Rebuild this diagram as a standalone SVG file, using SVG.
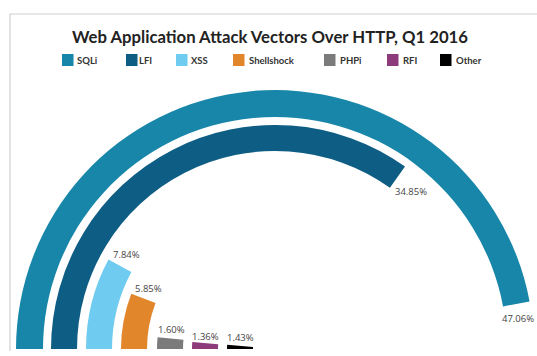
<svg xmlns="http://www.w3.org/2000/svg" width="537" height="356" viewBox="0 0 537 356">
<style>
.title{font-family:Lato,"Liberation Sans",sans-serif;font-weight:700;font-size:17px;fill:#222}
.leg{font-family:Lato,"Liberation Sans",sans-serif;font-weight:700;font-size:9.5px;fill:#333}
.val{font-family:"Open Sans","Liberation Sans",sans-serif;font-size:9.5px;fill:#444}
.frame{fill:none;stroke:#cfcfcf;stroke-width:1.2}
</style>
<rect x="0" y="0" width="537" height="356" fill="#ffffff"/>
<path class="frame" d="M10,351 L10,14 L537,14"/>
<text class="title" x="270" y="43" text-anchor="middle" textLength="396" lengthAdjust="spacingAndGlyphs">Web Application Attack Vectors Over HTTP, Q1 2016</text>
<g id="legend">
<rect x="62" y="54" width="11.5" height="12" fill="#1786a9"/><text class="leg" x="77" y="64">SQLi</text>
<rect x="126" y="54" width="11.5" height="12" fill="#0e5d84"/><text class="leg" x="139" y="64">LFI</text>
<rect x="176" y="54" width="11.5" height="12" fill="#6fcbef"/><text class="leg" x="191" y="64">XSS</text>
<rect x="233" y="54" width="11.5" height="12" fill="#e1862b"/><text class="leg" x="249" y="64">Shellshock</text>
<rect x="324" y="54" width="11.5" height="12" fill="#7b7b7b"/><text class="leg" x="340" y="64">PHPi</text>
<rect x="387" y="54" width="11.5" height="12" fill="#8e3b7c"/><text class="leg" x="403" y="64">RFI</text>
<rect x="440" y="54" width="11.5" height="12" fill="#000000"/><text class="leg" x="456" y="64">Other</text>
</g>
<g id="sqli">
<path d="M16,349 A259,259 0 0 1 529.59,301.43 L503.05,306.39 A232,232 0 0 0 43,349 Z" fill="#1786a9"/>
<text class="val" x="502" y="322">47.06%</text>
</g>
<g id="lfi">
<path d="M51,349 A224,224 0 0 1 405,166.59 L389.91,187.76 A198,198 0 0 0 77,349 Z" fill="#0e5d84"/>
<text class="val" x="395" y="195">34.85%</text>
</g>
<g id="xss">
<path d="M86,349 A189,189 0 0 1 108.47,259.62 L131.38,271.91 A163,163 0 0 0 112,349 Z" fill="#6fcbef"/>
<text class="val" x="113" y="258">7.84%</text>
</g>
<g id="shellshock">
<path d="M121,349 A154,154 0 0 1 131.29,293.66 L155.55,303 A128,128 0 0 0 147,349 Z" fill="#e1862b"/>
<text class="val" x="135" y="292">5.85%</text>
</g>
<g id="phpi">
<path d="M157,349 A118,118 0 0 1 157.6,337.16 L183.46,339.77 A92,92 0 0 0 183,349 Z" fill="#7b7b7b"/>
<text class="val" x="158" y="333">1.60%</text>
</g>
<g id="rfi">
<path d="M192,349 A83,83 0 0 1 192.3,341.92 L218.21,344.14 A57,57 0 0 0 218,349 Z" fill="#8e3b7c"/>
<text class="val" x="192" y="340">1.36%</text>
</g>
<g id="other">
<path d="M227,349 A48,48 0 0 1 227.19,344.69 L253.09,347.03 A22,22 0 0 0 253,349 Z" fill="#000000"/>
<text class="val" x="227" y="341">1.43%</text>
</g>
<g id="connectors"></g>
</svg>
